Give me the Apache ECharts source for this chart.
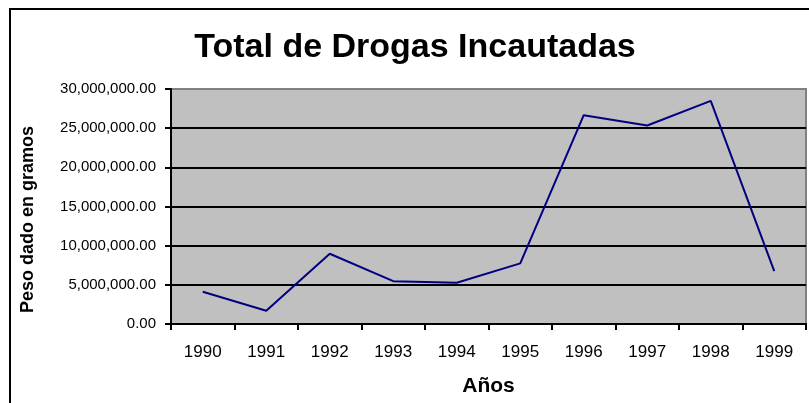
<!DOCTYPE html>
<html>
<head>
<meta charset="utf-8">
<script src="https://cdn.jsdelivr.net/npm/echarts@6/dist/echarts.min.js"></script>
<style>
  html, body { margin: 0; padding: 0; background: #fff; }
  #main { width: 809px; height: 403px; }
</style>
</head>
<body>
<div id="main"></div>
<script>
var years = ['1990', '1991', '1992', '1993', '1994', '1995', '1996', '1997', '1998', '1999'];
var pesoGramos = [4120000, 1700000, 8970000, 5470000, 5270000, 7740000, 26660000, 25340000, 28480000, 6760000];
var yTicks = { min: 0, max: 30000000, step: 5000000 };

var chart = echarts.init(document.getElementById('main'));

function fmtNum(v) {
    // 25000000 -> 25,000,000.00
    var s = Math.round(v).toString().replace(/\B(?=(\d{3})+(?!\d))/g, ',');
    return s + '.00';
}

var option = {
    backgroundColor: '#ffffff',
    animation: false,
    textStyle: { fontFamily: 'Liberation Sans' },
    title: {
        text: 'Total de Drogas Incautadas',
        left: 410,
        textAlign: 'center',
        top: 26,
        textStyle: { fontSize: 34, fontWeight: 'bold', color: '#000', fontFamily: 'Liberation Sans' }
    },
    graphic: [{
        type: 'rect',
        shape: { x: 10, y: 9, width: 830, height: 430 },
        style: { fill: 'none', stroke: '#000', lineWidth: 2 },
        silent: true
    }],
    grid: {
        left: 171, right: 3, top: 89, bottom: 79,
        show: true,
        backgroundColor: '#c0c0c0',
        borderColor: '#808080',
        borderWidth: 2
    },
    xAxis: {
        type: 'category',
        data: years,
        boundaryGap: true,
        name: 'Años',
        nameLocation: 'middle',
        nameGap: 52,
        nameTextStyle: { fontSize: 21, fontWeight: 'bold', color: '#000' },
        axisLine: { lineStyle: { color: '#000', width: 2 } },
        axisTick: { show: true, interval: 0, length: 6, lineStyle: { color: '#000', width: 2 } },
        axisLabel: { fontSize: 17, color: '#000', margin: 20 },
        splitLine: { show: false }
    },
    yAxis: {
        type: 'value',
        min: yTicks.min,
        max: yTicks.max,
        interval: yTicks.step,
        name: 'Peso dado en gramos',
        nameLocation: 'middle',
        nameGap: 134,
        nameTextStyle: { fontSize: 18, fontWeight: 'bold', color: '#000', padding: [0, 26, 0, 0] },
        axisLine: { show: true, lineStyle: { color: '#000', width: 2 } },
        axisTick: { show: true, length: 6, lineStyle: { color: '#000', width: 2 } },
        axisLabel: { fontSize: 15, color: '#000', margin: 15, formatter: fmtNum },
        splitLine: {
            show: true,
            lineStyle: { color: ['#000', '#000', '#000', '#000', '#000', '#000', '#808080'], width: 2 }
        }
    },
    series: [{
        name: 'Total',
        type: 'line',
        data: pesoGramos,
        symbol: 'none',
        lineStyle: { color: '#000080', width: 2 },
        itemStyle: { color: '#000080' }
    }]
};

chart.setOption(option);
</script>
</body>
</html>
